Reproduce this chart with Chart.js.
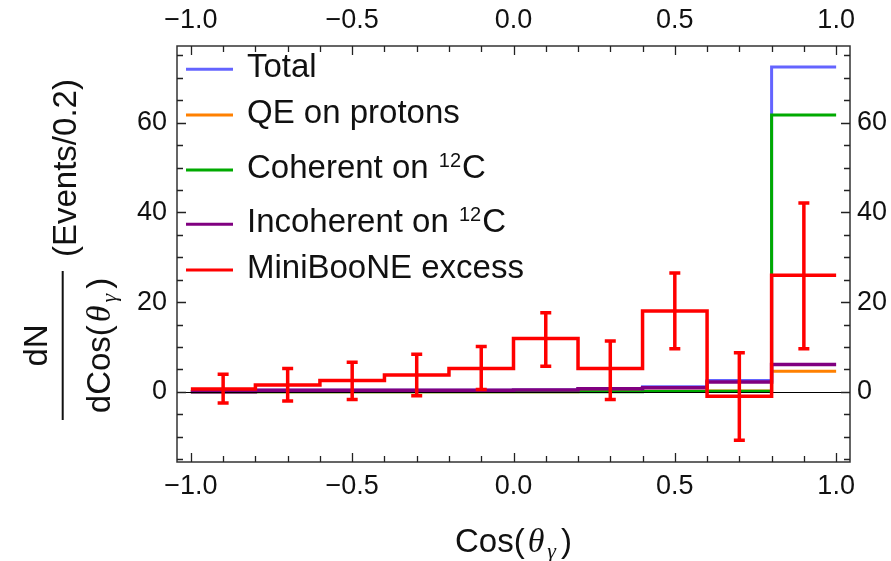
<!DOCTYPE html>
<html><head><meta charset="utf-8">
<script src="https://cdn.jsdelivr.net/npm/chart.js@4/dist/chart.umd.min.js"></script>
<style>html,body{margin:0;padding:0;background:#fff;} #wrap{width:891px;height:561px;position:relative;}</style>
</head><body><div id="wrap"><canvas id="c" width="891" height="561"></canvas></div>
<script>
// ---- data ----
const binEdges = [-1.0, -0.8, -0.6, -0.4, -0.2, 0.0, 0.2, 0.4, 0.6, 0.8, 1.0];
const totalValues      = [0.0, 0.35, 0.35, 0.35, 0.35, 0.4, 0.75, 1.1, 2.5, 72.4];
const qeValues         = [0.0, 0.0, 0.0, 0.0, 0.0, 0.0, 0.05, 0.1, 0.2, 4.6];
const coherentValues   = [0.0, 0.0, 0.0, 0.0, 0.0, 0.0, 0.0, 0.05, 0.1, 61.7];
const incoherentValues = [0.0, 0.35, 0.35, 0.35, 0.35, 0.4, 0.7, 0.9, 2.2, 6.1];
const excessValues     = [0.6, 1.5, 2.5, 3.75, 5.2, 11.9, 5.2, 18.0, -1.0, 26.0];
const excessLow        = [-2.5, -2.05, -1.7, -0.9, 0.5, 5.7, -1.7, 9.6, -10.8, 9.6];
const excessHigh       = [3.9, 5.2, 6.6, 8.4, 10.1, 17.6, 11.3, 26.5, 8.7, 42.1];
const seriesNames = ['Total', 'QE on protons', 'Coherent on ¹²C', 'Incoherent on ¹²C', 'MiniBooNE excess'];
const xMajorTicks = [-1.0, -0.5, 0.0, 0.5, 1.0];
const xMinorTicks = [-0.9, -0.8, -0.7, -0.6, -0.4, -0.3, -0.2, -0.1, 0.1, 0.2, 0.3, 0.4, 0.6, 0.7, 0.8, 0.9];
const yMajorTicks = [0, 20, 40, 60];
const yMinorTicks = [-15, -10, -5, 5, 10, 15, 25, 30, 35, 45, 50, 55, 65, 70, 75];
const xRange = [-1.043, 1.043];
const yRange = [-15.65, 77.1];

// ---- styles ----
const colors = ['#6464ff', '#ff8000', '#00aa00', '#800080', '#ff0000'];
const widths = [3, 3, 3, 3.5, 3.5];
const SANS = "'Liberation Sans', Arial, Helvetica, sans-serif";
const SERIF = "'Liberation Serif', 'Times New Roman', serif";
const tickFont = {family: SANS, size: 27};

function stepPoints(values) {
  return binEdges.map((x, i) => ({x: x, y: values[Math.min(i, values.length - 1)]}));
}
function fmt(v) {
  const a = Math.abs(v) < 1e-9 ? 0 : v;
  return (a < 0 ? '\u2212' : '') + Math.abs(a).toFixed(1);
}

const allValues = [totalValues, qeValues, coherentValues, incoherentValues, excessValues];
const datasets = allValues.map((vals, i) => ({
  label: seriesNames[i],
  data: stepPoints(vals),
  stepped: true,
  borderColor: colors[i],
  borderWidth: widths[i],
  pointRadius: 0,
  fill: false,
  order: 4 - i,
  borderCapStyle: 'butt',
  borderJoinStyle: 'miter',
  xAxisID: 'x', yAxisID: 'y'
}));

function drawSuperText(ctx, parts, x, y, size) {
  let cx = x;
  const segs = parts.split('¹²');
  ctx.textAlign = 'left';
  ctx.textBaseline = 'alphabetic';
  for (let i = 0; i < segs.length; i++) {
    ctx.font = size + 'px ' + SANS;
    ctx.fillText(segs[i], cx, y);
    cx += ctx.measureText(segs[i]).width;
    if (i < segs.length - 1) {
      const ss = Math.round(size * 0.62);
      ctx.font = ss + 'px ' + SANS;
      ctx.fillText('12', cx + 1, y - 11);
      cx += ctx.measureText('12').width + 2;
    }
  }
}

// draws "<prefix>(θγ)" left-to-right starting at (x, base) in current transform
function drawCosTheta(ctx, prefix, x, base) {
  let tx = x;
  ctx.textAlign = 'left'; ctx.textBaseline = 'alphabetic';
  ctx.font = '33px ' + SANS; ctx.fillText(prefix, tx, base); tx += ctx.measureText(prefix).width + 3;
  ctx.font = 'italic 34px ' + SERIF; ctx.fillText('θ', tx, base); tx += ctx.measureText('θ').width + 3;
  ctx.font = 'italic 22px ' + SERIF; ctx.fillText('γ', tx, base + 6); tx += ctx.measureText('γ').width + 5;
  ctx.font = '33px ' + SANS; ctx.fillText(')', tx, base); tx += ctx.measureText(')').width;
  return tx - x;
}
function widthCosTheta(ctx, prefix) {
  let w = 0;
  ctx.font = '33px ' + SANS; w += ctx.measureText(prefix).width + 3;
  ctx.font = 'italic 34px ' + SERIF; w += ctx.measureText('θ').width + 3;
  ctx.font = 'italic 22px ' + SERIF; w += ctx.measureText('γ').width + 5;
  ctx.font = '33px ' + SANS; w += ctx.measureText(')').width;
  return w;
}

const decorPlugin = {
  id: 'decor',
  afterDatasetDraw(chart, args) {
    if (args.index === 3) {
      const ctx = chart.ctx, a = chart.chartArea, ys = chart.scales.y;
      const y0 = Math.round(ys.getPixelForValue(0)) + 0.5;
      ctx.save();
      ctx.strokeStyle = '#000'; ctx.lineWidth = 1.2;
      ctx.beginPath(); ctx.moveTo(a.left, y0); ctx.lineTo(a.right, y0); ctx.stroke();
      ctx.restore();
    }
  },
  afterDatasetsDraw(chart) {
    const ctx = chart.ctx, a = chart.chartArea, xs = chart.scales.x, ys = chart.scales.y;
    ctx.save();
    // error bars
    ctx.strokeStyle = colors[4]; ctx.lineWidth = 3.5; ctx.lineCap = 'butt';
    for (let i = 0; i < excessValues.length; i++) {
      const cxv = (binEdges[i] + binEdges[i + 1]) / 2;
      const px = xs.getPixelForValue(cxv);
      const pl = ys.getPixelForValue(excessLow[i]);
      const ph = ys.getPixelForValue(excessHigh[i]);
      ctx.beginPath();
      ctx.moveTo(px, pl); ctx.lineTo(px, ph);
      ctx.moveTo(px - 5.5, pl); ctx.lineTo(px + 5.5, pl);
      ctx.moveTo(px - 5.5, ph); ctx.lineTo(px + 5.5, ph);
      ctx.stroke();
    }
    // frame
    ctx.strokeStyle = '#333'; ctx.lineWidth = 1.5;
    ctx.strokeRect(a.left, a.top, a.right - a.left, a.bottom - a.top);
    // inward ticks
    ctx.lineWidth = 1.3; ctx.strokeStyle = '#222';
    ctx.beginPath();
    const tickX = (v, len) => {
      const px = Math.round(xs.getPixelForValue(v)) + 0.5;
      ctx.moveTo(px, a.bottom); ctx.lineTo(px, a.bottom - len);
      ctx.moveTo(px, a.top); ctx.lineTo(px, a.top + len);
    };
    const tickY = (v, len) => {
      const py = Math.round(ys.getPixelForValue(v)) + 0.5;
      ctx.moveTo(a.left, py); ctx.lineTo(a.left + len, py);
      ctx.moveTo(a.right, py); ctx.lineTo(a.right - len, py);
    };
    xMajorTicks.forEach(v => tickX(v, 9));
    xMinorTicks.forEach(v => tickX(v, 6));
    yMajorTicks.forEach(v => tickY(v, 9));
    yMinorTicks.forEach(v => tickY(v, 6));
    ctx.stroke();

    // legend
    const legendRows = [69.3, 115, 170, 224.3, 270];
    ctx.fillStyle = '#111';
    for (let i = 0; i < seriesNames.length; i++) {
      const ly = legendRows[i];
      ctx.strokeStyle = colors[i]; ctx.lineWidth = 3;
      ctx.beginPath(); ctx.moveTo(186, ly); ctx.lineTo(233, ly); ctx.stroke();
      drawSuperText(ctx, seriesNames[i], 247, ly + 8, 33);
    }

    // x-axis title: Cos(θγ)
    const xw = widthCosTheta(ctx, 'Cos(');
    drawCosTheta(ctx, 'Cos(', (a.left + a.right) / 2 - xw / 2, 552);

    // y-axis title (rotated); local u = -screenY, v = screenX
    ctx.save();
    ctx.rotate(-Math.PI / 2);
    ctx.textAlign = 'center';
    ctx.font = '33px ' + SANS;
    ctx.fillText('dN', -345.5, 47);
    ctx.fillRect(-420, 61.7, 149, 2);
    const dw = widthCosTheta(ctx, 'dCos(');
    drawCosTheta(ctx, 'dCos(', -345.5 - dw / 2, 110);
    ctx.textAlign = 'left';
    ctx.font = '33px ' + SANS;
    ctx.fillText('(Events/0.2)', -257, 76);
    ctx.restore();

    ctx.restore();
  }
};

const xTickCfg = {callback: v => fmt(v), font: tickFont, color: '#111', maxRotation: 0, minRotation: 0, autoSkip: false};
const yTickCfg = {callback: v => String(v), font: tickFont, color: '#111', autoSkip: false};

new Chart(document.getElementById('c'), {
  type: 'line',
  data: {datasets: datasets},
  options: {
    responsive: false,
    animation: false,
    devicePixelRatio: 1,
    layout: {padding: 0},
    plugins: {legend: {display: false}, tooltip: {enabled: false}},
    scales: {
      x: {type: 'linear', position: 'bottom', min: xRange[0], max: xRange[1],
          afterBuildTicks: s => { s.ticks = xMajorTicks.map(v => ({value: v})); },
          ticks: Object.assign({padding: 8}, xTickCfg),
          grid: {display: false, drawTicks: false}, border: {display: false},
          afterFit: s => { s.height = 99; }},
      xTop: {type: 'linear', position: 'top', min: xRange[0], max: xRange[1],
          afterBuildTicks: s => { s.ticks = xMajorTicks.map(v => ({value: v})); },
          ticks: Object.assign({padding: 9}, xTickCfg),
          grid: {display: false, drawTicks: false}, border: {display: false},
          afterFit: s => { s.height = 46; }},
      y: {type: 'linear', position: 'left', min: yRange[0], max: yRange[1],
          afterBuildTicks: s => { s.ticks = yMajorTicks.map(v => ({value: v})); },
          ticks: Object.assign({padding: 10}, yTickCfg),
          grid: {display: false, drawTicks: false}, border: {display: false},
          afterFit: s => { s.width = 177; }},
      yRight: {type: 'linear', position: 'right', min: yRange[0], max: yRange[1],
          afterBuildTicks: s => { s.ticks = yMajorTicks.map(v => ({value: v})); },
          ticks: Object.assign({padding: 7}, yTickCfg),
          grid: {display: false, drawTicks: false}, border: {display: false},
          afterFit: s => { s.width = 41; }}
    }
  },
  plugins: [decorPlugin]
});
</script>
</body></html>
